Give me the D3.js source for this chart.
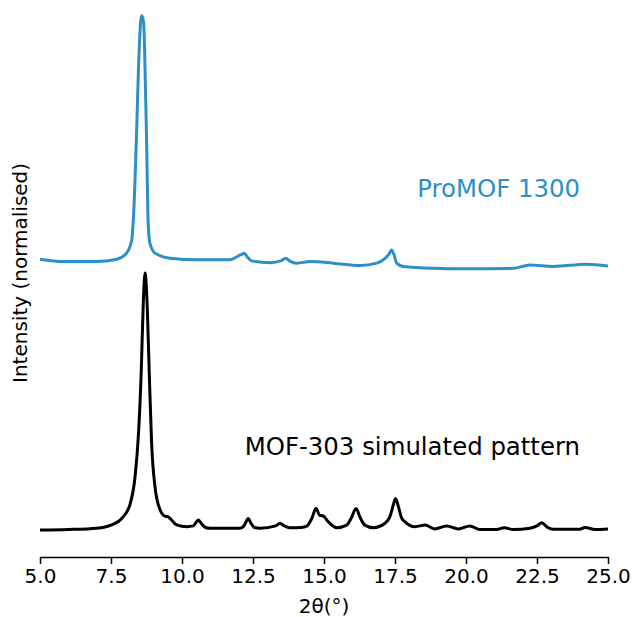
<!DOCTYPE html>
<html>
<head>
<meta charset="utf-8">
<script src="https://cdn.jsdelivr.net/npm/d3@7/dist/d3.min.js"></script>
<style>
  body { margin: 0; background: #fff; }
  text { font-family: "DejaVu Sans", sans-serif; }
</style>
</head>
<body>
<svg id="chart" width="633" height="617"></svg>
<script>
// 2theta positions (deg) and normalised intensities
const simTheta = [5.0, 6.0, 7.0, 7.52, 7.88, 8.17, 8.35, 8.46, 8.56, 8.64, 8.70, 8.78, 8.85, 8.93, 9.05, 9.23, 9.40, 9.50, 9.58, 9.81, 10.17, 10.40, 10.50, 10.58, 10.68, 10.85, 10.99, 12.04, 12.15, 12.25, 12.33, 12.42, 12.55, 12.75, 13.30, 13.45, 13.60, 13.8, 14.20, 14.39, 14.57, 14.72, 14.84, 14.98, 15.15, 15.45, 15.80, 15.97, 16.13, 16.27, 16.44, 16.74, 17.15, 17.32, 17.44, 17.52, 17.62, 17.74, 17.85, 18.2, 18.56, 18.9, 19.32, 19.73, 20.14, 20.49, 21.08, 21.34, 21.67, 22.25, 22.50, 22.67, 22.85, 23.07, 24.0, 24.19, 24.54, 25.0];
const simIntensity = [0.0, 0.002, 0.007, 0.02, 0.045, 0.10, 0.21, 0.36, 0.60, 0.895, 1.0, 0.856, 0.60, 0.337, 0.168, 0.078, 0.054, 0.052, 0.045, 0.02, 0.013, 0.016, 0.030, 0.039, 0.025, 0.009, 0.007, 0.007, 0.012, 0.030, 0.045, 0.028, 0.010, 0.007, 0.016, 0.026, 0.016, 0.009, 0.010, 0.015, 0.045, 0.085, 0.058, 0.054, 0.032, 0.009, 0.019, 0.049, 0.084, 0.049, 0.019, 0.009, 0.026, 0.052, 0.097, 0.123, 0.091, 0.045, 0.032, 0.013, 0.019, 0.004, 0.016, 0.004, 0.016, 0.002, 0.002, 0.009, 0.002, 0.007, 0.016, 0.028, 0.012, 0.003, 0.003, 0.01, 0.002, 0.004];

const expTheta = [5.0, 5.82, 7.0, 7.70, 8.05, 8.23, 8.32, 8.40, 8.47, 8.55, 8.59, 8.65, 8.71, 8.76, 8.80, 8.87, 9.05, 9.58, 10.52, 11.69, 11.93, 12.10, 12.19, 12.30, 12.45, 13.10, 13.50, 13.65, 13.80, 14.04, 14.51, 15.33, 16.27, 16.86, 17.15, 17.28, 17.38, 17.47, 17.56, 17.79, 18.85, 20.02, 21.67, 22.25, 23.07, 24.25, 25.0];
const expIntensity = [0.053, 0.044, 0.044, 0.053, 0.077, 0.128, 0.284, 0.543, 0.803, 0.984, 1.0, 0.971, 0.738, 0.479, 0.219, 0.116, 0.077, 0.057, 0.051, 0.051, 0.063, 0.072, 0.077, 0.062, 0.047, 0.040, 0.048, 0.057, 0.046, 0.038, 0.044, 0.038, 0.029, 0.038, 0.057, 0.072, 0.089, 0.070, 0.038, 0.025, 0.018, 0.016, 0.018, 0.031, 0.025, 0.034, 0.027];
const expOffset = 1.0;

const xTicks = [5, 7.5, 10, 12.5, 15, 17.5, 20, 22.5, 25];

const simColor = "#000000";
const expColor = "#2b90c8";

const svg = d3.select("#chart");
const margin = { left: 40, right: 25, top: 3, bottom: 60 };
const width = 633, height = 617;

const x = d3.scaleLinear().domain([5, 25]).range([margin.left, width - margin.right]);
const y = d3.scaleLinear().domain([-0.105, 2.05]).range([height - margin.bottom, margin.top]);

const line = d3.line().curve(d3.curveMonotoneX);

// simulated pattern
svg.append("path")
  .attr("d", line(simTheta.map((t, i) => [x(t), y(simIntensity[i])])))
  .attr("fill", "none")
  .attr("stroke", simColor)
  .attr("stroke-width", 3)
  .attr("stroke-linejoin", "round");

// measured pattern, shifted up
svg.append("path")
  .attr("d", line(expTheta.map((t, i) => [x(t), y(expIntensity[i] + expOffset)])))
  .attr("fill", "none")
  .attr("stroke", expColor)
  .attr("stroke-width", 3)
  .attr("stroke-linejoin", "round");

// x axis
const xAxis = d3.axisBottom(x)
  .tickValues(xTicks)
  .tickFormat(d3.format(".1f"))
  .tickSize(7)
  .tickSizeOuter(0)
  .tickPadding(5);

const gx = svg.append("g")
  .attr("transform", `translate(0,${height - margin.bottom})`)
  .call(xAxis);
gx.select(".domain").attr("stroke", "#000").attr("stroke-width", 1.5);
gx.selectAll(".tick line").attr("stroke", "#000").attr("stroke-width", 1.5);
gx.selectAll(".tick text")
  .attr("fill", "#000")
  .style("font-family", "DejaVu Sans")
  .style("font-size", "20px");

svg.append("text")
  .attr("x", (margin.left + width - margin.right) / 2)
  .attr("y", 613)
  .attr("text-anchor", "middle")
  .style("font-size", "20px")
  .text("2θ(°)");

svg.append("text")
  .attr("transform", `translate(27,${y(1.0)}) rotate(-90)`)
  .attr("text-anchor", "middle")
  .style("font-size", "20px")
  .text("Intensity (normalised)");

// labels for the two patterns
svg.append("text")
  .attr("x", 580)
  .attr("y", 197)
  .attr("text-anchor", "end")
  .attr("fill", expColor)
  .style("font-size", "24.4px")
  .text("ProMOF 1300");

svg.append("text")
  .attr("x", 580)
  .attr("y", 455)
  .attr("text-anchor", "end")
  .attr("fill", simColor)
  .style("font-size", "24.4px")
  .text("MOF-303 simulated pattern");
</script>
</body>
</html>
